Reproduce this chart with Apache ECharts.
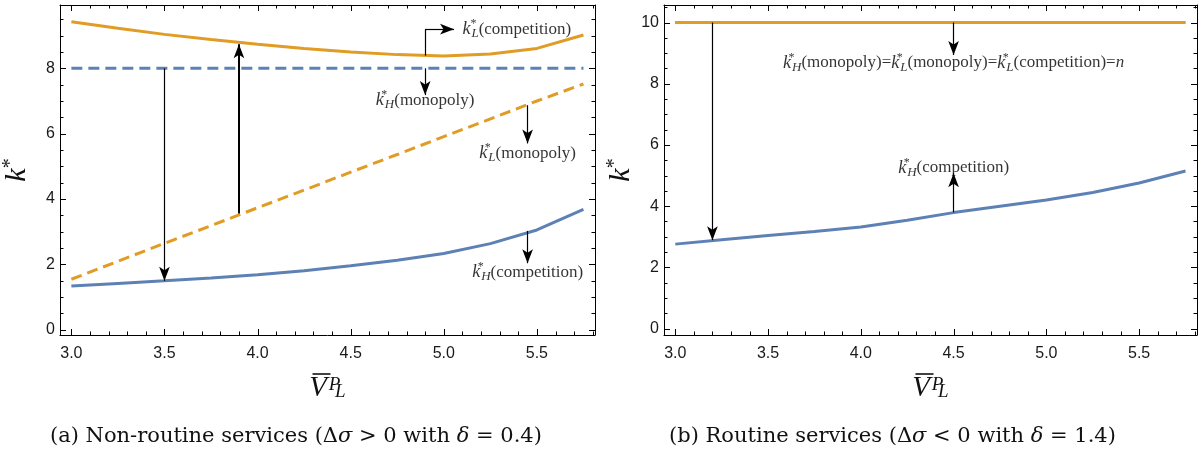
<!DOCTYPE html>
<html><head><meta charset="utf-8">
<script src="https://cdn.jsdelivr.net/npm/echarts@6/dist/echarts.min.js"></script>
<style>html,body{margin:0;padding:0;background:#fff}#c{width:1201px;height:452px}</style>
</head><body><div id="c"></div>
<script>
// ---------- data ----------
const xValues = [3.0, 3.25, 3.5, 3.75, 4.0, 4.25, 4.5, 4.75, 5.0, 5.25, 5.5, 5.75];
// panel (a) non-routine services
const aKLcomp = [9.43, 9.23, 9.04, 8.88, 8.74, 8.61, 8.50, 8.42, 8.38, 8.44, 8.61, 9.02];
const aKHmono = [8, 8, 8, 8, 8, 8, 8, 8, 8, 8, 8, 8];
const aKLmono = [1.54, 2.09, 2.64, 3.18, 3.73, 4.27, 4.82, 5.36, 5.91, 6.45, 7.00, 7.52];
const aKHcomp = [1.33, 1.41, 1.49, 1.58, 1.68, 1.80, 1.95, 2.12, 2.33, 2.63, 3.05, 3.68];
// panel (b) routine services
const bKLcomp = [10, 10, 10, 10, 10, 10, 10, 10, 10, 10, 10, 10];
const bKLmono = [10, 10, 10, 10, 10, 10, 10, 10, 10, 10, 10, 10];
const bKHmono = [10, 10, 10, 10, 10, 10, 10, 10, 10, 10, 10, 10];
const bKHcomp = [2.76, 2.90, 3.04, 3.17, 3.32, 3.54, 3.79, 4.00, 4.20, 4.45, 4.76, 5.15];
// ticks
const xTicks = [3.0, 3.5, 4.0, 4.5, 5.0, 5.5];
const xMinor = [3.1, 3.2, 3.3, 3.4, 3.6, 3.7, 3.8, 3.9, 4.1, 4.2, 4.3, 4.4, 4.6, 4.7, 4.8, 4.9, 5.1, 5.2, 5.3, 5.4, 5.6, 5.7, 5.8];
const aYTicks = [0, 2, 4, 6, 8];
const aYMinor = [0.5, 1, 1.5, 2.5, 3, 3.5, 4.5, 5, 5.5, 6.5, 7, 7.5, 8.5, 9, 9.5];
const bYTicks = [0, 2, 4, 6, 8, 10];
const bYMinor = [0.5, 1, 1.5, 2.5, 3, 3.5, 4.5, 5, 5.5, 6.5, 7, 7.5, 8.5, 9, 9.5, 10.5];
// annotation arrows [x1, y1, x2, y2] (head at second point), in data units
const aArrows = [[3.5, 8, 3.5, 1.49], [3.9, 3.55, 3.9, 8.74], [4.9, 8.0, 4.9, 7.18], [5.45, 6.87, 5.45, 5.70], [5.45, 3.02, 5.45, 2.03], [4.9, 9.2, 5.055, 9.2]];
const aStems = [[4.9, 8.39, 4.9, 9.2]];
const bArrows = [[3.2, 10, 3.2, 2.89], [4.5, 10, 4.5, 8.94], [4.5, 3.80, 4.5, 5.08]];
// annotation labels: [x, y, subscript, rest, align, ...]
const aLabels = [[5.1, 9.2, 'L', '(competition)', 'left'], [4.9, 7.02, 'H', '(monopoly)', 'center'], [5.45, 5.40, 'L', '(monopoly)', 'center'], [5.45, 1.76, 'H', '(competition)', 'center']];
const bLabels = [[4.5, 8.68, 'H', '(monopoly)=', 'center', 'L', '(monopoly)=', 'L', '(competition)=', 'n'], [4.5, 5.25, 'H', '(competition)', 'center']];

const ORANGE = '#E09C24', BLUE = '#5E81B5';
const SERIF = 'Liberation Serif';
const X_MIN = 2.939, X_MAX = 5.812;

const chart = echarts.init(document.getElementById('c'), null, {renderer: 'canvas'});

const labelRich = {
  k: {fontFamily: SERIF, fontStyle: 'italic', fontSize: 18, lineHeight: 22, color: '#000'},
  sup: {fontFamily: SERIF, fontSize: 12, verticalAlign: 'top', lineHeight: 10, color: '#000', width: 1},
  sub: {fontFamily: SERIF, fontStyle: 'italic', fontSize: 13, verticalAlign: 'bottom', lineHeight: 12, color: '#000'},
  t: {fontFamily: SERIF, fontSize: 17, lineHeight: 22, color: '#000'},
  n: {fontFamily: SERIF, fontStyle: 'italic', fontSize: 17, lineHeight: 22, color: '#000'}
};

function kTok(sub) { return '{k|k}{sup|*}{sub|' + sub + '}'; }

function makeLabelData(list) {
  return list.map(function (L) {
    let txt = kTok(L[2]) + '{t|' + L[3] + '}';
    if (L.length > 5) {
      txt += kTok(L[5]) + '{t|' + L[6] + '}' + kTok(L[7]) + '{t|' + L[8] + '}{n|' + L[9] + '}';
    }
    return {value: [L[0], L[1]], label: {show: true, position: 'inside', align: L[4], verticalAlign: 'middle', formatter: txt, rich: labelRich}};
  });
}

function makeArrowData(list, headless) {
  return list.map(function (A) {
    const thick = (!headless && A[0] === 3.9) ? 2 : 1.2;
    return [
      {coord: [A[0], A[1]], symbol: 'none', lineStyle: {width: thick}},
      {coord: [A[2], A[3]], symbol: headless ? 'none' : 'arrow', symbolSize: [8, 14]}
    ];
  });
}

function axesFor(g, yMin, yMax, yTicks) {
  const lineSt = {color: '#000', width: 1};
  const base = {type: 'value', gridIndex: g, min: X_MIN, max: X_MAX, splitLine: {show: false}, silent: true, axisTick: {show: false}};
  const xs = [
    Object.assign({}, base, {position: 'bottom',
      axisLine: {show: true, onZero: false, lineStyle: lineSt},
      axisLabel: {show: true, customValues: xTicks, margin: 11, fontFamily: 'Liberation Sans', fontSize: 16, color: '#1a1a1a', formatter: function (v) { return v.toFixed(1); }},
      name: '{o| }{g| }\n{v|V}{s|P}{b|L}', nameLocation: 'middle', nameGap: 38,
      nameTextStyle: {rich: {
        o: {width: 18, height: 1.6, lineHeight: 2, backgroundColor: '#111', fontSize: 2},
        g: {width: 12, height: 1.6, lineHeight: 2, fontSize: 2},
        v: {fontFamily: SERIF, fontStyle: 'italic', fontSize: 29, lineHeight: 26, color: '#111', padding: [0, 7, 0, 0]},
        s: {fontFamily: SERIF, fontStyle: 'italic', fontSize: 19, verticalAlign: 'top', lineHeight: 16, width: 1, color: '#111'},
        b: {fontFamily: SERIF, fontStyle: 'italic', fontSize: 19, verticalAlign: 'bottom', lineHeight: 10, color: '#111'}
      }}}),
    Object.assign({}, base, {position: 'top', axisLine: {show: true, onZero: false, lineStyle: lineSt}, axisLabel: {show: false}})
  ];
  const ybase = {type: 'value', gridIndex: g, min: yMin, max: yMax, splitLine: {show: false}, silent: true, axisTick: {show: false}};
  const ys = [
    Object.assign({}, ybase, {position: 'left',
      axisLine: {show: true, onZero: false, lineStyle: lineSt},
      axisLabel: {show: true, customValues: yTicks, margin: 5, fontFamily: 'Liberation Sans', fontSize: 16, color: '#1a1a1a'},
      name: '{k|k}{s|*}', nameLocation: 'middle', nameGap: 27, nameRotate: 90,
      nameTextStyle: {rich: {
        k: {fontFamily: SERIF, fontStyle: 'italic', fontSize: 30, lineHeight: 32, color: '#111'},
        s: {fontFamily: SERIF, fontSize: 20, verticalAlign: 'top', lineHeight: 20, color: '#111'}
      }}}),
    Object.assign({}, ybase, {position: 'right', axisLine: {show: true, onZero: false, lineStyle: lineSt}, axisLabel: {show: false}})
  ];
  return {xs: xs, ys: ys};
}

const A = axesFor(0, -0.168, 9.94, aYTicks);
const B = axesFor(1, -0.21, 10.575, bYTicks);

// tick marks on all four frame sides, placed through the axis scales
const TICK_LEN = [6, 3.5, 6, 3.5];
function tickSeries(ai, yMinor, yTicks) {
  const data = [];
  xTicks.forEach(function (v) { data.push([0, v]); });
  xMinor.forEach(function (v) { data.push([1, v]); });
  yTicks.forEach(function (v) { data.push([2, v]); });
  yMinor.forEach(function (v) { data.push([3, v]); });
  return {type: 'custom', xAxisIndex: ai, yAxisIndex: ai, silent: true, z: 6, clip: false, data: data,
    encode: {x: 1, y: 1},
    renderItem: function (params, api) {
      const kind = api.value(0), v = api.value(1), len = TICK_LEN[kind];
      const cs = params.coordSys;
      const st = {stroke: '#000', lineWidth: 1};
      if (kind < 2) {
        const px = Math.round(api.coord([v, 0])[0]) + 0.5;
        const yb = cs.y + cs.height, yt = cs.y;
        return {type: 'group', children: [
          {type: 'line', shape: {x1: px, y1: yb, x2: px, y2: yb - len}, style: st},
          {type: 'line', shape: {x1: px, y1: yt, x2: px, y2: yt + len}, style: st}
        ]};
      }
      const py = Math.round(api.coord([xTicks[0], v])[1]) + 0.5;
      const xl = cs.x, xr = cs.x + cs.width;
      return {type: 'group', children: [
        {type: 'line', shape: {x1: xl, y1: py, x2: xl + len, y2: py}, style: st},
        {type: 'line', shape: {x1: xr, y1: py, x2: xr - len, y2: py}, style: st}
      ]};
    }};
}

function pairs(ys) { return xValues.map(function (x, i) { return [x, ys[i]]; }); }

function lineSeries(ai, ys, color, dashed, z) {
  return {type: 'line', xAxisIndex: ai, yAxisIndex: ai, data: pairs(ys), showSymbol: false, symbol: 'none',
    smooth: false, z: z || 2, silent: true,
    lineStyle: {color: color, width: 3, type: dashed ? [11, 6] : 'solid', cap: 'butt'}};
}

function annoSeries(ai, arrows, stems, labels) {
  return {type: 'scatter', xAxisIndex: ai, yAxisIndex: ai, symbolSize: 0, silent: true, z: 5,
    data: makeLabelData(labels),
    markLine: {silent: true, animation: false, symbol: ['none', 'arrow'], precision: 4,
      label: {show: false}, emphasis: {disabled: true},
      lineStyle: {color: '#000', width: 1.2, type: 'solid'},
      data: makeArrowData(arrows, false).concat(makeArrowData(stems, true))}};
}

const captionRich = {
  r: {fontFamily: 'DejaVu Serif', fontSize: 21, fontWeight: 'normal', color: '#111'},
  i: {fontFamily: 'DejaVu Serif', fontStyle: 'italic', fontWeight: 'normal', fontSize: 21, color: '#111'}
};

const option = {
  animation: false,
  backgroundColor: '#fff',
  title: [
    {left: 45, top: 421, text: '{r|(a) Non-routine services (Δ}{i|σ}{r| > 0 with }{i|δ}{r| = 0.4)}', textStyle: {fontWeight: 'normal', rich: captionRich}},
    {left: 664, top: 421, text: '{r|(b) Routine services (Δ}{i|σ}{r| < 0 with }{i|δ}{r| = 1.4)}', textStyle: {fontWeight: 'normal', rich: captionRich}}
  ],
  grid: [
    {left: 60, top: 5, width: 535, height: 330},
    {left: 664, top: 5, width: 533, height: 330}
  ],
  xAxis: A.xs.concat(B.xs),
  yAxis: A.ys.concat(B.ys),
  series: [
    lineSeries(0, aKHmono, BLUE, true),
    lineSeries(0, aKLmono, ORANGE, true),
    lineSeries(0, aKHcomp, BLUE, false),
    lineSeries(0, aKLcomp, ORANGE, false),
    annoSeries(0, aArrows, aStems, aLabels),
    tickSeries(0, aYMinor, aYTicks),
    lineSeries(2, bKHmono, BLUE, true),
    lineSeries(2, bKHcomp, BLUE, false),
    lineSeries(2, bKLcomp, ORANGE, false),
    lineSeries(2, bKLmono, ORANGE, true, 3),
    annoSeries(2, bArrows, [], bLabels),
    tickSeries(2, bYMinor, bYTicks)
  ]
};
chart.setOption(option);
</script>
</body></html>
